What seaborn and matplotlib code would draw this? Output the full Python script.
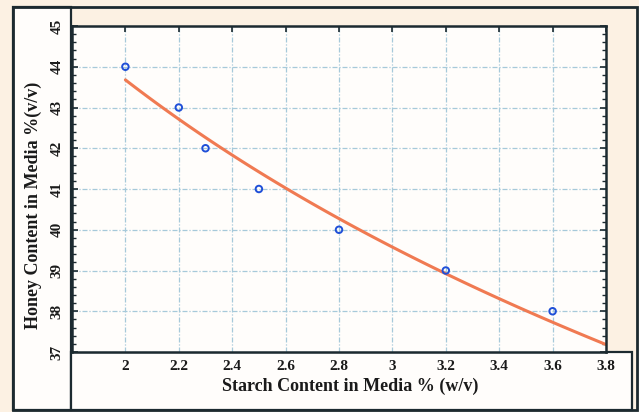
import numpy as np
import pandas as pd
import matplotlib
matplotlib.use("Agg")
import matplotlib.pyplot as plt
import seaborn as sns
from matplotlib.patches import Rectangle
from matplotlib.ticker import MultipleLocator

# data
starch = [2.0, 2.2, 2.3, 2.5, 2.8, 3.2, 3.6]
honey = [44, 43, 42, 41, 40, 39, 38]
x_ticks = [2, 2.2, 2.4, 2.6, 2.8, 3, 3.2, 3.4, 3.6, 3.8]
x_tick_labels = ["2", "2.2", "2.4", "2.6", "2.8", "3", "3.2", "3.4", "3.6", "3.8"]
y_ticks = [37, 38, 39, 40, 41, 42, 43, 44, 45]

df = pd.DataFrame({"starch": starch, "honey": honey})

sns.set_theme(style="white")
plt.rcParams["font.family"] = ["Liberation Serif", "DejaVu Serif"]

W, H = 639, 412
fig = plt.figure(figsize=(W / 100, H / 100), dpi=100)
fig.patch.set_facecolor("#fcf1e3")

dark = "#1c2a30"

def px_rect(x0, y0, x1, y1, **kw):
    # rectangle in pixel coords (top-left origin) -> figure fraction
    r = Rectangle((x0 / W, 1 - y1 / H), (x1 - x0) / W, (y1 - y0) / H,
                  transform=fig.transFigure, zorder=-1, **kw)
    fig.patches.append(r)

# white side panel and bottom panel, outer frame
px_rect(13, 7, 71, 410, facecolor="#fffdfb", edgecolor=dark, linewidth=1.6)
px_rect(71, 352, 632, 410, facecolor="#fffdfb", edgecolor=dark, linewidth=1.6)
px_rect(13, 7, 637, 410, facecolor="none", edgecolor=dark, linewidth=2.0)

ax = fig.add_axes([72 / W, 1 - 352 / H, (606 - 72) / W, (352 - 26) / H])
ax.set_facecolor("#fffdfb")

# log fit drawn from the first point to the right edge
ax.set_xlim(2.0, 3.8)
sns.regplot(data=df, x="starch", y="honey", logx=True, ci=None, scatter=False,
            truncate=False, ax=ax, line_kws={"color": "#f07a52", "linewidth": 2.2})
sns.scatterplot(data=df, x="starch", y="honey", ax=ax, s=22, marker="o",
                facecolor="none", edgecolor="#1f4fd8", linewidth=1.4, zorder=5)

ax.set_xlim(1.8, 3.8)
ax.set_ylim(37, 45)
ax.set_xticks(x_ticks)
ax.set_xticklabels(x_tick_labels)
ax.set_yticks(y_ticks)
ax.set_yticklabels([str(v) for v in y_ticks], rotation=90, va="center")
ax.yaxis.set_minor_locator(MultipleLocator(0.2))
for lab in ax.get_xticklabels() + ax.get_yticklabels():
    lab.set_fontweight("bold")

ax.grid(True, which="major", color="#a6c9da", linestyle=(0, (4, 1.5, 1, 1.5)), linewidth=0.9)
ax.tick_params(axis="both", which="major", direction="in", length=4, width=1.2,
               color=dark, top=True, right=True, left=True, bottom=False,
               labelsize=11, labelcolor="#1a1a1a")
ax.tick_params(axis="x", pad=6)
ax.tick_params(axis="y", pad=6)
ax.tick_params(axis="y", which="minor", direction="in", length=3, width=1.0,
               color=dark, left=True, right=True)
for s in ax.spines.values():
    s.set_color(dark)
    s.set_linewidth(1.8)

ax.set_xlabel("")
ax.set_ylabel("")
fig.text(350 / W, 1 - 386 / H, "Starch Content in Media % (w/v)", ha="center", va="center",
         fontsize=13, fontweight="bold", color="#1a1a1a")
fig.text(33 / W, 1 - 205 / H, "Honey Content in Media %(v/v)", ha="center", va="center",
         rotation=90, fontsize=13, fontweight="bold", color="#1a1a1a")

fig.savefig("out.png", dpi=100, facecolor=fig.get_facecolor())
